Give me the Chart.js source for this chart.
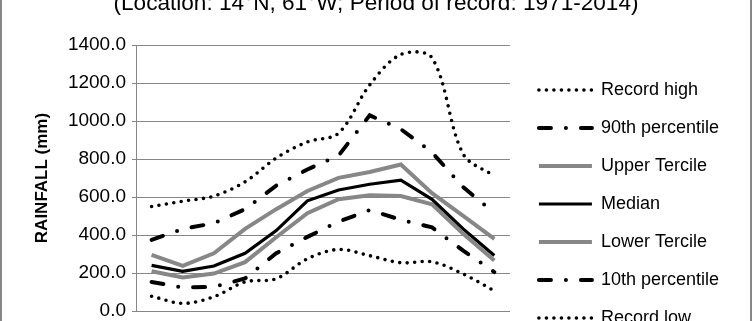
<!DOCTYPE html>
<html><head><meta charset="utf-8">
<script src="https://cdn.jsdelivr.net/npm/chart.js@4.4.1/dist/chart.umd.min.js"></script>
<style>
html,body{margin:0;padding:0;background:#fff;overflow:hidden;width:752px;height:321px;}
#frame{position:absolute;left:0;top:-32px;width:752px;height:472px;border:2px solid #878787;box-sizing:border-box;background:#fff;}
#wrap{position:relative;width:748px;height:468px;}
</style></head><body>
<div id="frame"><div id="wrap"><canvas id="c"></canvas></div></div>
<script>
const months = ['Jan','Feb','Mar','Apr','May','Jun','Jul','Aug','Sep','Oct','Nov','Dec'];
const recordHigh   = [550, 578, 605, 680, 805, 890, 936, 1190, 1350, 1332, 826, 710];
const pct90        = [374, 432, 462, 536, 660, 745, 818, 1030, 957, 835, 652, 515];
const upperTercile = [296, 237, 304, 432, 536, 632, 701, 732, 771, 620, 501, 380];
const median       = [240, 209, 237, 304, 423, 580, 637, 667, 689, 588, 432, 292];
const lowerTercile = [209, 176, 197, 257, 388, 515, 588, 609, 605, 562, 406, 266];
const pct10        = [153, 124, 127, 171, 304, 390, 470, 531, 480, 440, 318, 205];
const recordLow    = [78, 40, 75, 153, 170, 275, 324, 291, 254, 259, 195, 106];
const yMin = 0, yMax = 1400, yStep = 200;
const titleText = '(Location: 14°N, 61°W; Period of record: 1971-2014)';
const yTitle = 'RAINFALL (mm)';

const FONT = 'Liberation Sans';
const GRAY = '#878787';
const dotted = {borderColor:'#000', borderWidth:3.6, borderDash:[0,7.5], borderCapStyle:'round', tension:0.33};
const dashDot = {borderColor:'#000', borderWidth:4, borderDash:[12,15,0,15], borderCapStyle:'round', tension:0};
const grayLine = {borderColor:GRAY, borderWidth:4, tension:0};
const blackLine = {borderColor:'#000', borderWidth:3.2, tension:0};

function ds(label, data, style){
  return Object.assign({label, data, pointRadius:0, pointHoverRadius:0, fill:false, backgroundColor:'transparent'}, style);
}

new Chart(document.getElementById('c'), {
  type:'line',
  data:{
    labels: months,
    datasets:[
      ds('Record high', recordHigh, dotted),
      ds('90th percentile', pct90, dashDot),
      ds('Upper Tercile', upperTercile, grayLine),
      ds('Median', median, blackLine),
      ds('Lower Tercile', lowerTercile, grayLine),
      ds('10th percentile', pct10, dashDot),
      ds('Record low', recordLow, dotted)
    ]
  },
  options:{
    responsive:true, maintainAspectRatio:false, animation:false, devicePixelRatio:1,
    layout:{padding:{left:21,right:21,top:0,bottom:0}},
    plugins:{
      title:{display:true, text:titleText, color:'#000', font:{family:FONT, size:22.6, weight:'normal'}, padding:{top:20.1, bottom:27.8}},
      legend:{position:'right', align:'center', maxWidth:300,
        labels:{usePointStyle:true, pointStyle:'line', pointStyleWidth:53, color:'#000', font:{family:FONT, size:18}, padding:20,
          generateLabels:(chart)=>{
            const items = Chart.defaults.plugins.legend.labels.generateLabels(chart);
            return items.map(it=>{
              const d = chart.data.datasets[it.datasetIndex];
              return Object.assign(it, {lineDash:d.borderDash||[], lineCap:d.borderCapStyle||'butt', lineWidth:d.borderWidth, strokeStyle:d.borderColor, fillStyle:d.borderColor, pointStyle:'line'});
            });
          }}},
      tooltip:{enabled:false}
    },
    scales:{
      x:{type:'category', offset:true, grid:{display:false}, border:{display:true, color:GRAY, width:1},
         ticks:{display:false}, afterFit:s=>{s.height=127;}},
      y:{min:yMin, max:yMax, ticks:{stepSize:yStep, color:'#000', padding:6, font:{family:FONT, size:19}, callback:v=>Number(v).toFixed(1)},
         grid:{color:GRAY, lineWidth:1, tickLength:4, drawTicks:true}, border:{display:true, color:GRAY, width:1},
         title:{display:true, text:yTitle, color:'#000', font:{family:FONT, size:17, weight:'bold'}, padding:{top:8.8,bottom:0}},
         afterFit:s=>{s.width=113;}},
      y2:{type:'linear', position:'right', display:true, grid:{display:false}, border:{display:false}, ticks:{display:false},
         afterFit:s=>{s.width=9;}}
    }
  }
});
</script>
</body></html>
